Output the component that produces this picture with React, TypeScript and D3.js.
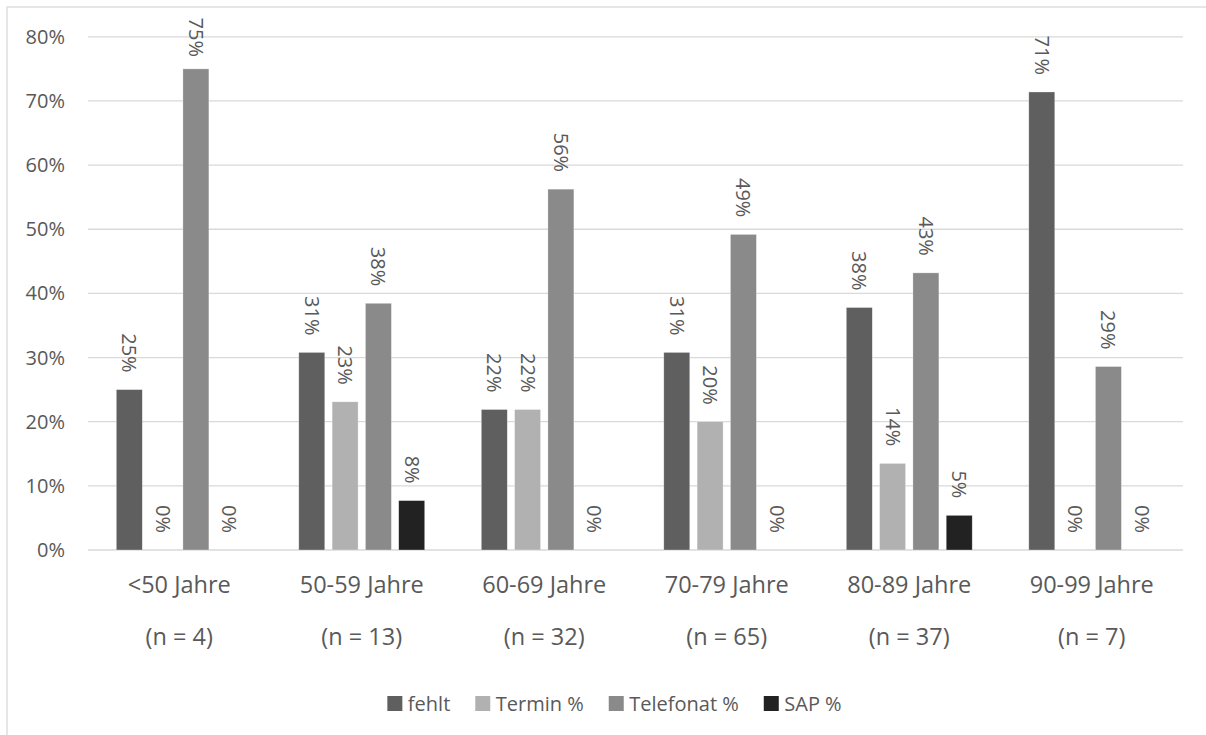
import React, { useEffect, useRef } from "react";
import * as d3 from "d3";

const categories = ["<50 Jahre", "50-59 Jahre", "60-69 Jahre", "70-79 Jahre", "80-89 Jahre", "90-99 Jahre"];
const nLabels = ["(n = 4)", "(n = 13)", "(n = 32)", "(n = 65)", "(n = 37)", "(n = 7)"];
const seriesNames = ["fehlt", "Termin %", "Telefonat %", "SAP %"];
const seriesColors = ["#5f5f5f", "#b1b1b1", "#8a8a8a", "#222222"];
const fehlt = [0.25, 0.308, 0.219, 0.308, 0.378, 0.714];
const termin = [0, 0.231, 0.219, 0.2, 0.135, 0];
const telefonat = [0.75, 0.3846, 0.5625, 0.492, 0.432, 0.286];
const sap = [0, 0.077, 0, 0, 0.054, 0];
const yTicks = [0, 0.1, 0.2, 0.3, 0.4, 0.5, 0.6, 0.7, 0.8];

const FONT = "'Open Sans', 'DejaVu Sans', sans-serif";
const TEXT = "#595959";

export default function App() {
  const ref = useRef<SVGSVGElement | null>(null);

  useEffect(() => {
    const svg = d3.select(ref.current);
    svg.selectAll("*").remove();
    const W = 1206, H = 735;
    const left = 88, right = 1183, top = 36.8, bottom = 550;
    const series = [fehlt, termin, telefonat, sap];

    // frame
    svg.append("rect").attr("x", 7).attr("y", 7).attr("width", W + 20).attr("height", H + 20)
      .attr("fill", "#fff").attr("stroke", "#d9d9d9").attr("stroke-width", 1.3);

    const y = d3.scaleLinear().domain([0, 0.8]).range([bottom, top]);
    const x0 = d3.scaleBand<string>().domain(categories).range([left, right]).padding(0);
    const inner = x0.step() * 0.73;
    const x1 = d3.scaleBand<string>().domain(seriesNames)
      .range([(x0.step() - inner) / 2, (x0.step() + inner) / 2])
      .paddingInner(0.22).paddingOuter(0.11);

    // gridlines
    svg.append("g").selectAll("line").data(yTicks).join("line")
      .attr("x1", left).attr("x2", right)
      .attr("y1", (d) => y(d)).attr("y2", (d) => y(d))
      .attr("stroke", "#d9d9d9").attr("stroke-width", 1.3);

    // y tick labels
    svg.append("g").selectAll("text").data(yTicks).join("text")
      .attr("x", 65).attr("y", (d) => y(d)).attr("dy", "0.35em")
      .attr("text-anchor", "end").attr("font-family", FONT).attr("font-size", 20)
      .attr("fill", TEXT).text((d) => d3.format(".0%")(d));

    // bars
    const data = categories.flatMap((c, i) => seriesNames.map((s, j) => ({ c, s, j, v: series[j][i] })));
    svg.append("g").selectAll("rect").data(data).join("rect")
      .attr("x", (d) => (x0(d.c) as number) + (x1(d.s) as number))
      .attr("y", (d) => y(d.v))
      .attr("width", x1.bandwidth())
      .attr("height", (d) => bottom - y(d.v))
      .attr("fill", (d) => seriesColors[d.j])
      .attr("stroke", "#ffffff").attr("stroke-width", 0.6).attr("stroke-opacity", 0.5);

    // data labels
    svg.append("g").selectAll("text").data(data).join("text")
      .attr("transform", (d) => {
        const cx = (x0(d.c) as number) + (x1(d.s) as number) + x1.bandwidth() / 2;
        const yy = Math.max(y(d.v) - 17, 57);
        return `translate(${cx},${yy}) rotate(90)`;
      })
      .attr("text-anchor", "end").attr("dy", "0.35em")
      .attr("font-family", FONT).attr("font-size", 20).attr("fill", TEXT)
      .text((d) => d3.format(".0%")(d.v));

    // category labels
    const cat = svg.append("g");
    cat.selectAll("text.c").data(categories).join("text").attr("class", "c")
      .attr("x", (d) => (x0(d) as number) + x0.bandwidth() / 2).attr("y", 585).attr("dy", "0.35em")
      .attr("text-anchor", "middle").attr("font-family", FONT).attr("font-size", 23.5)
      .attr("fill", TEXT).text((d) => d);
    cat.selectAll("text.n").data(categories).join("text").attr("class", "n")
      .attr("x", (d) => (x0(d) as number) + x0.bandwidth() / 2).attr("y", 637).attr("dy", "0.35em")
      .attr("text-anchor", "middle").attr("font-family", FONT).attr("font-size", 23.5)
      .attr("fill", TEXT).text((_, i) => nLabels[i]);

    // legend
    const lg = svg.append("g");
    const items = seriesNames.map((s, i) => {
      const g = lg.append("g");
      g.append("rect").attr("x", 0).attr("y", 696).attr("width", 15).attr("height", 15).attr("fill", seriesColors[i]);
      const t = g.append("text").attr("x", 20.5).attr("y", 703.5).attr("dy", "0.35em")
        .attr("font-family", FONT).attr("font-size", 20).attr("fill", TEXT).text(s);
      const w = (t.node() as SVGTextElement).getComputedTextLength();
      return { g, w: 20.5 + w };
    });
    const gap = 25;
    const total = d3.sum(items, (d) => d.w) + gap * (items.length - 1);
    let cx = 614.5 - total / 2;
    items.forEach((it) => {
      it.g.attr("transform", `translate(${cx},0)`);
      cx += it.w + gap;
    });
  }, []);

  return (
    <svg ref={ref} width={1206} height={735}
      style={{ position: "absolute", left: 0, top: 0, background: "#fff" }} />
  );
}
